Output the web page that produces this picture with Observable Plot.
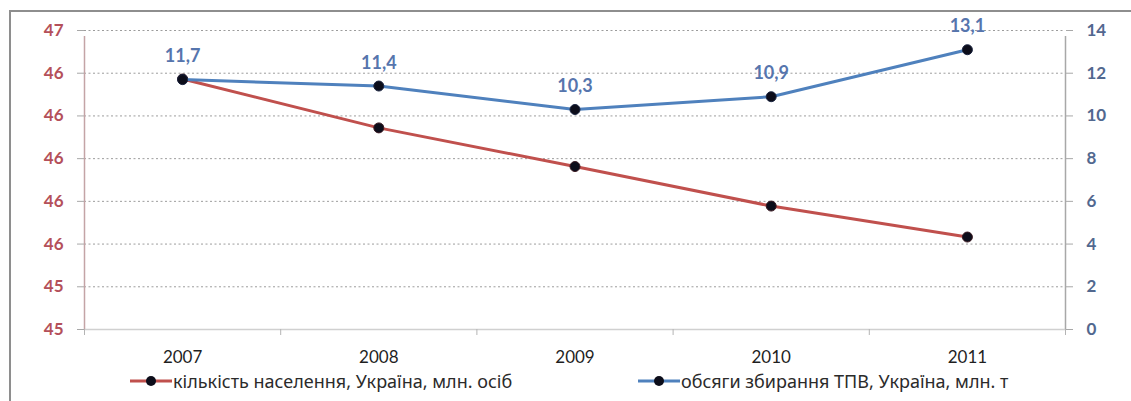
<!DOCTYPE html>
<html>
<head>
<meta charset="utf-8">
<script src="https://cdn.jsdelivr.net/npm/d3@7"></script>
<script src="https://cdn.jsdelivr.net/npm/@observablehq/plot@0.6"></script>
<style>
  body { margin: 0; background: #fff; }
  #wrap { position: relative; width: 1131px; height: 401px; overflow: hidden; background: #fff; }
  #frame { position: absolute; left: 9px; top: 10px; width: 1200px; height: 500px;
           border-left: 2px solid #8e8e8e; border-top: 2px solid #8e8e8e; pointer-events: none; }
  #chart { position: absolute; left: 0; top: 0; }
  #legend { position: absolute; left: 0; top: 366px; width: 1131px; height: 35px;
            font-family: "Noto Sans", sans-serif; font-size: 18px; color: #2b2b2b; }
  .item { position: absolute; top: 3px; display: flex; align-items: center; white-space: nowrap; }
  .item svg { margin-right: 1px; }
</style>
</head>
<body>
<div id="wrap">
  <div id="chart"></div>
  <div id="legend"></div>
  <div id="frame"></div>
</div>
<script>
// Years on the horizontal axis
const years = [2007, 2008, 2009, 2010, 2011];
// Population of Ukraine, million people (left axis)
const population = [46.373, 46.144, 45.963, 45.778, 45.633];
// Collected solid household waste, Ukraine, million tonnes (right axis)
const waste = [11.7, 11.4, 10.3, 10.9, 13.1];
// Axis ticks
const leftTicks = [45.2, 45.4, 45.6, 45.8, 46.0, 46.2, 46.4, 46.6];
const rightTicks = [0, 2, 4, 6, 8, 10, 12, 14];
// Series names and colours
const seriesNames = ["кількість населення, Україна, млн. осіб", "обсяги збирання ТПВ, Україна, млн. т"];
const seriesColors = ["#c0504d", "#4f81bd"];

// The waste series shares the population y scale through a linear mapping
const leftDomain = [leftTicks[0], leftTicks[leftTicks.length - 1]];
const rightDomain = [rightTicks[0], rightTicks[rightTicks.length - 1]];
const toLeft = d3.scaleLinear(rightDomain, leftDomain);

const popData = years.map((year, i) => ({year, value: population[i]}));
const wasteData = years.map((year, i) => ({year, value: waste[i], y: toLeft(waste[i])}));

const boundaries = d3.range(years[0] - 0.5, years[years.length - 1] + 1, 1);
const font = "Lato, 'Noto Sans', sans-serif";

const chart = Plot.plot({
  width: 1131,
  height: 366,
  marginLeft: 84,
  marginRight: 66,
  marginTop: 30,
  marginBottom: 37,
  style: {fontFamily: font, fontSize: "17px", background: "transparent"},
  x: {domain: [boundaries[0], boundaries[boundaries.length - 1]], label: null},
  y: {domain: leftDomain, label: null},
  marks: [
    // dotted horizontal gridlines
    Plot.ruleY(leftTicks.slice(1), {stroke: "#9c9c9c", strokeWidth: 1, strokeDasharray: "2,2.5"}),
    // baseline
    Plot.ruleY([leftDomain[0]], {stroke: "#d0d0d0", strokeWidth: 1.5}),
    // category boundary ticks
    Plot.axisX({ticks: boundaries, tickFormat: () => "", tickSize: 6, stroke: "#b4b4b4", strokeWidth: 1, label: null}),
    // year labels
    Plot.axisX({ticks: years, tickFormat: d => String(d), tickSize: 0, tickPadding: 21,
                fill: "#1f1f1f", fontSize: 17, label: null}),
    // left axis
    Plot.ruleX([boundaries[0]], {y1: leftDomain[0], y2: leftDomain[1], insetBottom: -6,
                stroke: "#c4a4a6", strokeWidth: 1.5}),
    Plot.axisY({anchor: "left", ticks: leftTicks, tickFormat: d => String(Math.round(d)),
                tickSize: 7, tickPadding: 14, stroke: "#a8a8a8", fill: "#b4505a",
                fontWeight: "bold", fontSize: 17, label: null}),
    // right axis
    Plot.ruleX([boundaries[boundaries.length - 1]], {y1: leftDomain[0], y2: leftDomain[1], insetBottom: -6,
                stroke: "#a8a8a8", strokeWidth: 1.5}),
    Plot.axisY({anchor: "right", ticks: rightTicks.map(toLeft),
                tickFormat: d => String(Math.round(toLeft.invert(d))),
                tickSize: 7, tickPadding: 14, stroke: "#a8a8a8", fill: "#52688f",
                fontWeight: "bold", fontSize: 17, label: null}),
    // population
    Plot.line(popData, {x: "year", y: "value", stroke: seriesColors[0], strokeWidth: 3}),
    Plot.dot(popData, {x: "year", y: "value", r: 5, fill: "#0c0d1a", stroke: "#3a1a22", strokeWidth: 1}),
    // waste
    Plot.line(wasteData, {x: "year", y: "y", stroke: seriesColors[1], strokeWidth: 3}),
    Plot.dot(wasteData, {x: "year", y: "y", r: 5, fill: "#0c0d1a", stroke: "#1a2440", strokeWidth: 1}),
    Plot.text(wasteData, {x: "year", y: "y", text: d => d.value.toFixed(1).replace(".", ","),
                          dy: -23, fill: "#5675ad", fontSize: 18, fontWeight: "bold"})
  ]
});
document.getElementById("chart").append(chart);

// Legend below the chart
const legend = document.getElementById("legend");
const legendX = [130, 638];
seriesNames.forEach((name, i) => {
  const item = document.createElement("div");
  item.className = "item";
  item.style.left = legendX[i] + "px";
  item.innerHTML =
    `<svg width="42" height="14"><line x1="0" x2="42" y1="7" y2="7" stroke="${seriesColors[i]}" stroke-width="3"/>` +
    `<circle cx="21" cy="7" r="5" fill="#0c0d1a"/></svg><span>${name}</span>`;
  legend.append(item);
});
</script>
</body>
</html>
